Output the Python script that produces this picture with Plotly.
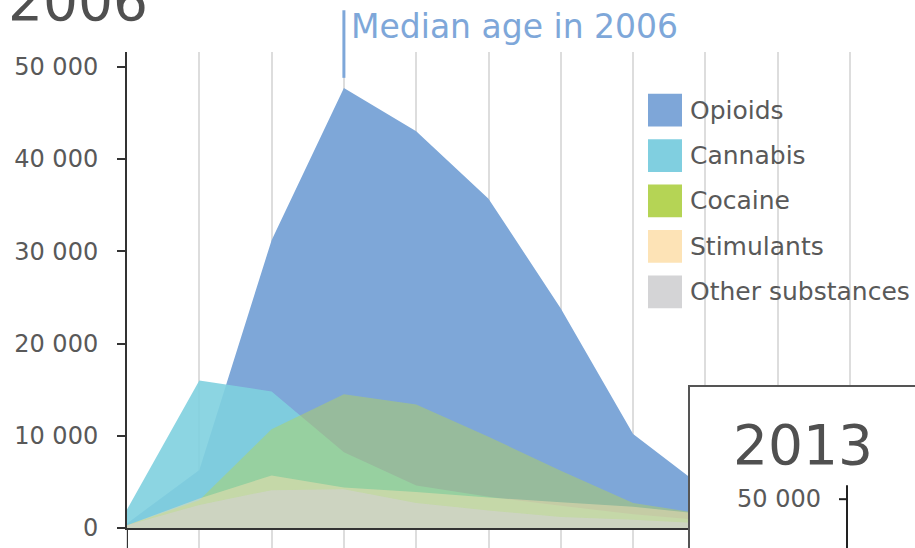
import plotly.graph_objects as go

# age groups (tick labels are cut off in the reference, only the positions matter)
age_groups = ["0", "1", "2", "3", "4", "5", "6", "7", "8"]
opioids = [500, 6300, 31200, 47700, 43000, 35700, 23800, 10200, 4200]
cannabis = [2000, 16000, 14800, 8200, 4600, 3400, 2400, 1500, 800]
cocaine = [300, 3000, 10700, 14500, 13400, 9900, 6200, 2700, 1500]
stimulants = [300, 3200, 5700, 4400, 3900, 3300, 2800, 2300, 1500]
other = [300, 2500, 4100, 4200, 2700, 1900, 1200, 900, 500]

series_names = ["Opioids", "Cannabis", "Cocaine", "Stimulants", "Other substances"]
series_values = [opioids, cannabis, cocaine, stimulants, other]
fill_colors = ["rgb(126,167,216)", "rgba(128,208,223,0.9)", "rgba(181,212,85,0.45)",
               "rgba(253,226,178,0.45)", "rgba(210,210,210,0.6)"]
key_colors = ["#7ea6d8", "#80cfe0", "#b5d455", "#fde3b6", "#d4d4d6"]

median_idx = 3
y_ticks = [0, 10000, 20000, 30000, 40000, 50000]

FONT = "DejaVu Sans"
W, H = 915, 548
L, R, T, B = 127, 915, 52, 531  # plot area in pixels


def px_x(p):
    return (p - L) / (R - L)


def px_y(p):
    return (B - p) / (B - T)


x_idx = list(range(len(age_groups)))

fig = go.Figure()
for name, vals, col in zip(series_names, series_values, fill_colors):
    fig.add_trace(go.Scatter(
        x=x_idx, y=vals, name=name, mode="lines",
        line=dict(width=0, color=col), fill="tozeroy", fillcolor=col,
        showlegend=False
    ))

shapes = []
annotations = []

# median marker
shapes.append(dict(type="line", xref="x", yref="paper", x0=median_idx, x1=median_idx,
                   y0=px_y(78), y1=px_y(10), line=dict(color="#7ea7d9", width=3)))
annotations.append(dict(text="Median age in 2006", xref="x", yref="paper", x=median_idx,
                        xshift=5, xanchor="left", y=px_y(26), yanchor="middle", showarrow=False,
                        font=dict(family=FONT, size=33, color="#7ea7d9")))

# year title, cut off at the top
annotations.append(dict(text="2006", xref="paper", yref="paper", x=px_x(6), xanchor="left",
                        y=px_y(1), yanchor="middle", showarrow=False,
                        font=dict(family=FONT, size=55, color="#505050")))

# y axis continues below zero
shapes.append(dict(type="line", xref="x", yref="paper", x0=0, x1=0, y0=px_y(570), y1=0,
                   line=dict(color="#333333", width=2)))

# legend keys drawn by hand (big squares)
for i, (name, col) in enumerate(zip(series_names, key_colors)):
    top = 94 + i * 45.7
    shapes.append(dict(type="rect", xref="paper", yref="paper",
                       x0=px_x(648), x1=px_x(682), y0=px_y(top + 33), y1=px_y(top),
                       fillcolor=col, line=dict(width=0), layer="above"))
    annotations.append(dict(text=name, xref="paper", yref="paper", x=px_x(688), xanchor="left",
                            y=px_y(top + 16.5), yanchor="middle", showarrow=False,
                            font=dict(family=FONT, size=25, color="#595959")))

# 2013 inset panel (partly outside the frame)
shapes.append(dict(type="rect", xref="paper", yref="paper", x0=px_x(689), x1=px_x(960),
                   y0=px_y(600), y1=px_y(388), fillcolor="white",
                   line=dict(color="#555555", width=2), layer="above"))
shapes.append(dict(type="line", xref="paper", yref="paper", x0=px_x(847), x1=px_x(847),
                   y0=px_y(600), y1=px_y(488), line=dict(color="#222222", width=2), layer="above"))
shapes.append(dict(type="line", xref="paper", yref="paper", x0=px_x(839), x1=px_x(847),
                   y0=px_y(502), y1=px_y(502), line=dict(color="#222222", width=2), layer="above"))
annotations.append(dict(text="2013", xref="paper", yref="paper", x=px_x(731), xanchor="left",
                        y=px_y(447), yanchor="middle", showarrow=False,
                        font=dict(family=FONT, size=55, color="#505050")))
annotations.append(dict(text="50 000", xref="paper", yref="paper", x=px_x(823), xanchor="right",
                        y=px_y(502), yanchor="middle", showarrow=False,
                        font=dict(family=FONT, size=24, color="#595959")))

fig.update_layout(
    width=W, height=H,
    margin=dict(l=L, r=W - R, t=T, b=H - B, pad=0),
    paper_bgcolor="white", plot_bgcolor="white",
    separators=". ",
    showlegend=False,
    font=dict(family=FONT, color="#595959"),
    xaxis=dict(
        range=[0, (R - L) / 72.3], tickmode="linear", tick0=0, dtick=1,
        showgrid=True, gridcolor="#dddddd", gridwidth=2,
        showline=True, linecolor="#333333", linewidth=2,
        ticks="outside", ticklen=20, tickcolor="#dddddd", tickwidth=2,
        showticklabels=False, zeroline=False
    ),
    yaxis=dict(
        range=[0, 51600], tickvals=y_ticks, tickformat=",",
        showgrid=False, zeroline=False,
        showline=True, linecolor="#333333", linewidth=2,
        ticks="outside", ticklen=8, tickcolor="#333333", tickwidth=2,
        ticklabelstandoff=14,
        tickfont=dict(family=FONT, size=24, color="#595959")
    ),
    shapes=shapes,
    annotations=annotations
)

# the page has a default 8px body margin; drop it so the figure sits at 0,0
fig.write_html("out.html", config={"displayModeBar": False},
               post_script="document.body.style.margin='0';")
